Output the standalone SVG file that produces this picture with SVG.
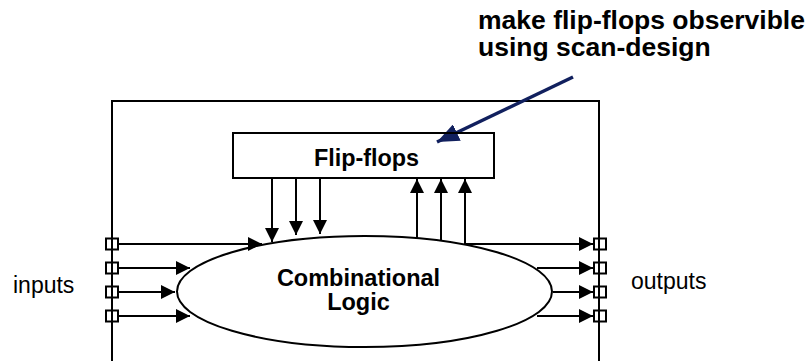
<svg xmlns="http://www.w3.org/2000/svg" width="811" height="361" viewBox="0 0 811 361">
  <style>
    .frame { fill: none; stroke: #000; stroke-width: 2; }
    .wire { fill: none; stroke: #000; stroke-width: 2; marker-end: url(#head); }
    .pin { fill: #fff; stroke: #000; stroke-width: 2; }
    .bold { font-family: "Liberation Sans", Arial, sans-serif; font-weight: bold; fill: #000; }
    .plain { font-family: "Liberation Sans", Arial, sans-serif; fill: #000; }
  </style>
  <defs>
    <marker id="head" markerUnits="userSpaceOnUse" markerWidth="14" markerHeight="14" refX="14" refY="7" orient="auto">
      <path d="M0,0 L14,7 L0,14 Z" fill="#000"/>
    </marker>
    <marker id="navyHead" markerUnits="userSpaceOnUse" markerWidth="22" markerHeight="18" refX="22" refY="9" orient="auto">
      <path d="M0,0 L22,9 L0,18 Z" fill="#11205e"/>
    </marker>
  </defs>

  <rect width="811" height="361" fill="#fff"/>

  <!-- chip boundary, open at the bottom -->
  <g id="chip">
    <path class="frame" d="M112,362 V101 H599 V362"/>
  </g>

  <!-- connectors -->
  <g id="connectors">
    <!-- flip-flops to logic -->
    <line class="wire" x1="272" y1="179" x2="272" y2="242"/>
    <line class="wire" x1="296" y1="179" x2="296" y2="235"/>
    <line class="wire" x1="320" y1="179" x2="320" y2="234"/>
    <!-- logic to flip-flops -->
    <line class="wire" x1="417" y1="238" x2="417" y2="179"/>
    <line class="wire" x1="441" y1="240" x2="441" y2="179"/>
    <line class="wire" x1="465" y1="245" x2="465" y2="179"/>
    <!-- primary inputs -->
    <line class="wire" x1="119" y1="244" x2="262" y2="244"/>
    <line class="wire" x1="119" y1="268" x2="190" y2="268"/>
    <line class="wire" x1="119" y1="292" x2="175" y2="292"/>
    <line class="wire" x1="119" y1="316" x2="190" y2="316"/>
    <!-- primary outputs -->
    <line class="wire" x1="465" y1="244" x2="593" y2="244"/>
    <line class="wire" x1="537" y1="268" x2="593" y2="268"/>
    <line class="wire" x1="553" y1="292" x2="593" y2="292"/>
    <line class="wire" x1="537" y1="316" x2="593" y2="316"/>
    <!-- annotation pointer -->
    <line x1="573" y1="77" x2="437" y2="142" stroke="#11205e" stroke-width="3.5" marker-end="url(#navyHead)"/>
  </g>

  <g id="input-pins">
    <rect class="pin" x="106" y="238.5" width="12" height="11"/>
    <rect class="pin" x="106" y="262.5" width="12" height="11"/>
    <rect class="pin" x="106" y="286.5" width="12" height="11"/>
    <rect class="pin" x="106" y="310.5" width="12" height="11"/>
    <line x1="112" y1="236" x2="112" y2="324" stroke="#000" stroke-width="2"/>
  </g>

  <g id="output-pins">
    <rect class="pin" x="594" y="238.5" width="12" height="11"/>
    <rect class="pin" x="594" y="262.5" width="12" height="11"/>
    <rect class="pin" x="594" y="286.5" width="12" height="11"/>
    <rect class="pin" x="594" y="310.5" width="12" height="11"/>
    <line x1="599" y1="236" x2="599" y2="324" stroke="#000" stroke-width="2"/>
  </g>

  <g id="flip-flops">
    <rect class="frame" x="233" y="133" width="261" height="45"/>
    <text class="bold" x="366.5" y="166" font-size="23.4" text-anchor="middle">Flip-flops</text>
  </g>

  <g id="combinational-logic">
    <ellipse class="frame" cx="364.5" cy="291.5" rx="187.5" ry="55.5"/>
    <text class="bold" x="358.5" y="286" font-size="23.5" text-anchor="middle">Combinational</text>
    <text class="bold" x="358.5" y="310" font-size="23.5" text-anchor="middle">Logic</text>
  </g>

  <g id="inputs-label">
    <text class="plain" x="13" y="293" font-size="23">inputs</text>
  </g>

  <g id="outputs-label">
    <text class="plain" x="631" y="289" font-size="23">outputs</text>
  </g>

  <g id="note">
    <text class="bold" x="478" y="29" font-size="26.5">make flip-flops observible</text>
    <text class="bold" x="478" y="56" font-size="26.5">using scan-design</text>
  </g>
</svg>
